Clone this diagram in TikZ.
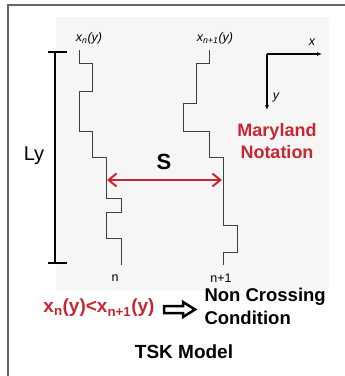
\documentclass[tikz,border=0pt]{standalone}
\usepackage{fontspec}
\setmainfont{Liberation Sans}
\usetikzlibrary{arrows.meta}
\definecolor{mdred}{RGB}{200,38,48}
\definecolor{panel}{RGB}{246,246,246}
\newcommand{\fsz}[1]{\fontsize{#1}{#1}\selectfont}

\begin{document}
\begin{tikzpicture}[x=1pt,y=-1pt,line width=1pt,
    stair/.style={draw=black!75,line width=0.8pt},
    small/.style={font=\fsz{12.5}\itshape,inner sep=0pt},
    bold/.style={font=\bfseries\fsz{18.5},inner sep=0pt}]
        \useasboundingbox (0,0) rectangle (345,376);

        % Frame and grey panel
        \fill[panel] (56,17) rectangle (329,291);
        \draw[black!60,line width=1.5pt] (8,376) -- (8,5) -- (345,5);

        % --- Length bar Ly ---
        \coordinate (ltop) at (55,52);
        \coordinate (lbot) at (55,263);
        \draw[line width=2pt] (ltop) -- (lbot);
        \draw[line width=2pt] ([xshift=-7pt]ltop) -- ([xshift=12pt]ltop);
        \draw[line width=2pt] ([xshift=-7pt]lbot) -- ([xshift=12pt]lbot);
        \node (ly) at (34,156) {\fsz{20}Ly};

        % --- Staircases (steps of vehicle n and n+1) ---
        \draw[stair] (79,50) |- (92,63) |- (79,91) |- (92,131) |- (106,157)
            |- (121,198) |- (106,212) |- (121,238) -- (121,265);
        \draw[stair] (209,50) |- (196,63) |- (183,103) |- (209,131) |- (223,157)
            |- (237,225) |- (223,252) -- (223,265);
        \node[small] (xn) at (89,38) {x\textsubscript{n}(y)};
        \node[small] (xn1) at (215,38) {x\textsubscript{n+1}(y)};
        \node[small,font=\fsz{12.5}] (n) at (115,278) {n};
        \node[small,font=\fsz{12.5}] (n1) at (221,278) {n+1};

        % Spacing S
        \coordinate (sn) at (107,180);
        \coordinate (sn1) at (222,180);
        \draw[mdred,line width=2pt,{Straight Barb[length=8pt,width=13pt]}-{Straight Barb[length=8pt,width=13pt]}] (sn) -- (sn1);
        \node[bold,font=\bfseries\fsz{22}] (s) at (164,162) {S};

        % --- Axes (Maryland notation) ---
        \coordinate (orig) at (267,54);
        \coordinate (xend) at (322,54);
        \coordinate (yend) at (267,110);
        \draw[line width=1.2pt,-{Latex[length=5pt,width=4pt]}] (orig) -- (xend);
        \draw[line width=1.2pt,-{Latex[length=5pt,width=4pt]}] (orig) -- (yend);
        \node[small] (xlab) at (312,42) {x};
        \node[small] (ylab) at (276,97) {y};
        \node[bold,text=mdred,align=center,font=\bfseries\fontsize{18}{22}\selectfont] (md) at (277,141) {Maryland\\Notation};

        % --- Non crossing condition ---
        \node[bold,text=mdred,font=\bfseries\fsz{19}] (cond) at (99,308) {x\textsubscript{n}(y)<x\textsubscript{n+1}(y)};
        \node[bold,anchor=west,align=left,font=\bfseries\fontsize{18.5}{23}\selectfont] (nc) at (204,306) {Non Crossing\\Condition};
        \draw[line width=2.5pt,line join=miter] (164,306) -- (183,306) -- (183,302) -- (195,309.5) -- (183,317) -- (183,313) -- (164,313) -- cycle;

        \node[bold,font=\bfseries\fsz{19}] (tsk) at (184,352) {TSK Model};
\end{tikzpicture}
\end{document}
